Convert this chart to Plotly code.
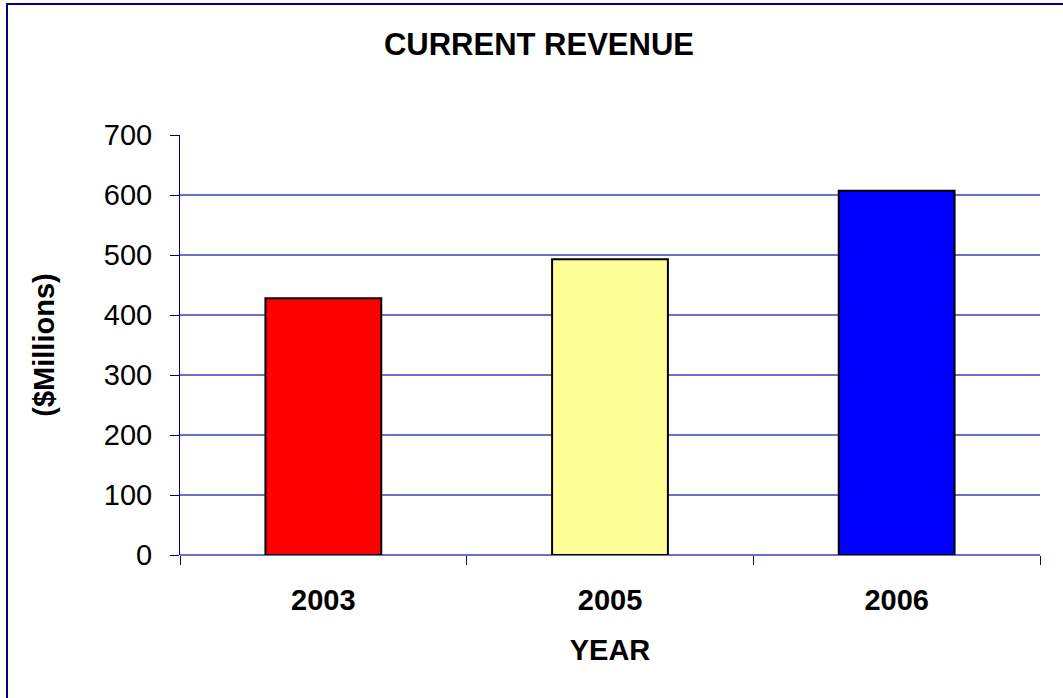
import plotly.graph_objects as go

years = ["2003", "2005", "2006"]
revenue = [428, 493, 607]
bar_colors = ["#FF0000", "#FFFF99", "#0000FF"]

fig = go.Figure()
fig.add_trace(go.Bar(
    x=years, y=revenue,
    marker=dict(color=bar_colors, line=dict(color="black", width=2)),
    width=0.404,
))

navy = "#000080"
grid = "#7070c0"
FONT = "Liberation Sans, Arial, sans-serif"

fig.update_layout(
    width=1063, height=698,
    margin=dict(l=180, r=23, t=135, b=143),
    plot_bgcolor="white",
    paper_bgcolor="white",
    font=dict(family=FONT, size=29, color="black"),
    showlegend=False,
    title=dict(text="<b>CURRENT REVENUE</b>", x=0.507, xanchor="center",
               y=1 - 44 / 698, yanchor="middle", font=dict(size=31)),
    # outer chart frame (left and top visible, rest runs off the page)
    shapes=[dict(type="rect", xref="paper", yref="paper",
                 x0=(7 - 180) / 860, x1=1.1, y0=-0.5, y1=(555 - 4) / 420,
                 line=dict(color=navy, width=2), layer="below")],
)

fig.update_xaxes(
    showgrid=False, showline=False, zeroline=False,
    ticks="outside", tickson="boundaries", ticklen=9, tickcolor=navy, tickwidth=1,
    tickfont=dict(size=29),
    tickprefix="<b>", ticksuffix="</b>",
    ticklabelstandoff=25,
    title=dict(text="<b>YEAR</b>", standoff=24, font=dict(size=29)),
)
fig.update_yaxes(
    range=[0, 700], dtick=100,
    showgrid=True, gridcolor=grid, gridwidth=1.5,
    zeroline=True, zerolinecolor=grid, zerolinewidth=1.5,
    showline=True, linecolor=navy, linewidth=1,
    ticks="outside", ticklen=9, tickcolor=navy, tickwidth=1,
    ticklabelstandoff=12,
    tickfont=dict(size=29),
    title=dict(text="<b>($Millions)</b>", standoff=40, font=dict(size=29)),
)

# drop the default page margin so the figure sits at the window's top-left
fig.write_html("out.html", config={"displayModeBar": False},
               post_script="document.body.style.margin='0';")
